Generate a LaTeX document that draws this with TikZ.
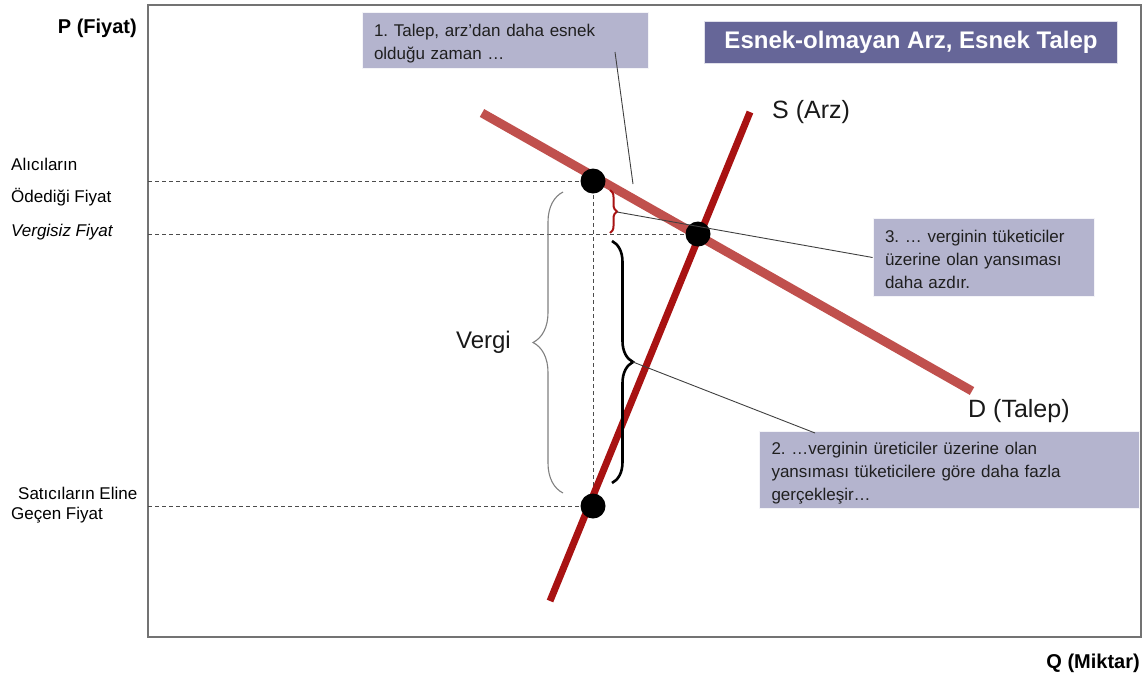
\documentclass[tikz,border=0pt]{standalone}
\usepackage{fontspec}
\setmainfont{Liberation Sans}
\usetikzlibrary{decorations.pathreplacing}
\definecolor{demandc}{RGB}{192,80,77}
\definecolor{supplyc}{RGB}{168,18,18}
\definecolor{boxc}{RGB}{180,180,206}
\definecolor{titlec}{RGB}{102,102,152}
\frenchspacing
\tikzset{
  lbl/.style={font=\fontsize{17}{20}\selectfont, inner sep=0pt, anchor=west},
  axislbl/.style={font=\fontsize{20}{24}\selectfont\bfseries, inner sep=0pt},
  callbox/.style={fill=boxc, draw=white!85!boxc, line width=0.8, inner sep=0pt},
  calltext/.style={inner xsep=12pt, inner ysep=0pt, align=left, font=\fontsize{17}{23}\selectfont, text=black!88},
  guide/.style={dash pattern=on 4pt off 3pt, draw=black!70, line width=0.9},
  pt/.style={circle, fill=black, minimum size=25pt, inner sep=0pt},
  leader/.style={draw=black!75, line width=0.9},
  curvelbl/.style={font=\fontsize{25}{30}\selectfont, inner sep=0pt, text=black!90}
}
\begin{document}
\begin{tikzpicture}[x=1pt,y=-1pt]
\useasboundingbox (0,0) rectangle (1148,678);
% frame
\draw[draw=black!55, line width=1.5] (148,5) rectangle (1141,637);
% axis labels
\node[axislbl, anchor=east] (plbl) at (137,28) {P (Fiyat)};
\node[axislbl, anchor=east] (qlbl) at (1140,663) {Q (Miktar)};
% left labels
\node[lbl] (al1) at (11,164) {Alıcıların};
\node[lbl] (al2) at (11,197) {Ödediği Fiyat};
\node[lbl, font=\fontsize{17}{20}\selectfont\itshape] (vf) at (11,232) {Vergisiz Fiyat};
\node[lbl] (sa1) at (18,493) {Satıcıların Eline};
\node[lbl] (sa2) at (11,515) {Geçen Fiyat};
% points
\coordinate (pb) at (593,181);
\coordinate (pe) at (698,234);
\coordinate (ps) at (593,506);
\coordinate (yb) at (148,181);
\coordinate (ye) at (148,234);
\coordinate (ys) at (148,506);
% dashed guides
\draw[guide] (yb) -- (pb);
\draw[guide] (ye) -- (pe);
\draw[guide] (ys) -- (ps);
\draw[guide] (pb) -- (ps);
% curves
\coordinate (d1) at (482,113);
\coordinate (d2) at (972,391);
\coordinate (s1) at (550,601);
\coordinate (s2) at (750,112);
\draw[demandc, line width=9] (d1) -- (d2);
\draw[supplyc, line width=7] (s1) -- (s2);
\node[curvelbl, anchor=west] (slbl) at (772,112) {S (Arz)};
\node[curvelbl, anchor=west] (dlbl) at (968,411) {D (Talep)};
% dots
\node[pt] (nb) at (pb) {};
\node[pt] (ne) at (pe) {};
\node[pt] (ns) at (ps) {};
% braces
\draw[draw=black!50, line width=1.1, decorate, decoration={brace, amplitude=30pt}] (563,493) -- (563,192);
\node[curvelbl, font=\fontsize{24}{28}\selectfont, anchor=east] (vergi) at (511,342) {Vergi};
\draw[draw=supplyc, line width=2, decorate, decoration={brace, amplitude=7pt}] (610,190) -- (610,233);
\coordinate (rtip) at (617,212);
\draw[draw=black, line width=2.6, decorate, decoration={brace, amplitude=21pt}] (612,241) -- (612,483);
\coordinate (btip) at (633,362);
% boxes
\node[callbox, minimum width=286pt, minimum height=56pt] (box1) at (505,40) {};
\node[calltext, text width=262pt] (t1) at ([yshift=-4pt]box1.center) {1. Talep, arz’dan daha esnek\\olduğu zaman \dots};
\node[callbox, minimum width=221pt, minimum height=78pt] (box3) at (983.5,257.5) {};
\node[calltext, text width=197pt] (t3) at ([yshift=-2pt]box3.center) {3. \dots{} verginin tüketiciler\\üzerine olan yansıması\\daha azdır.};
\node[callbox, minimum width=380pt, minimum height=77pt] (box2) at (949.5,469.5) {};
\node[calltext, text width=356pt] (t2) at ([yshift=-4pt]box2.center) {2. \dots verginin üreticiler üzerine olan\\yansıması tüketicilere göre daha fazla\\gerçekleşir\dots};
\node[fill=titlec, draw=white!80!titlec, minimum width=413pt, minimum height=42pt, text=white, font=\fontsize{24}{28}\selectfont\bfseries] (title) at (911,42.5) {Esnek-olmayan Arz, Esnek Talep};
% leaders
\coordinate (l1a) at (615,52);
\coordinate (l1b) at (633,184);
\draw[leader] (l1a) -- (l1b);
\draw[leader] (rtip) -- (box3.west);
\coordinate (l2b) at (815,433);
\draw[leader] (btip) -- (l2b);
\end{tikzpicture}
\end{document}
